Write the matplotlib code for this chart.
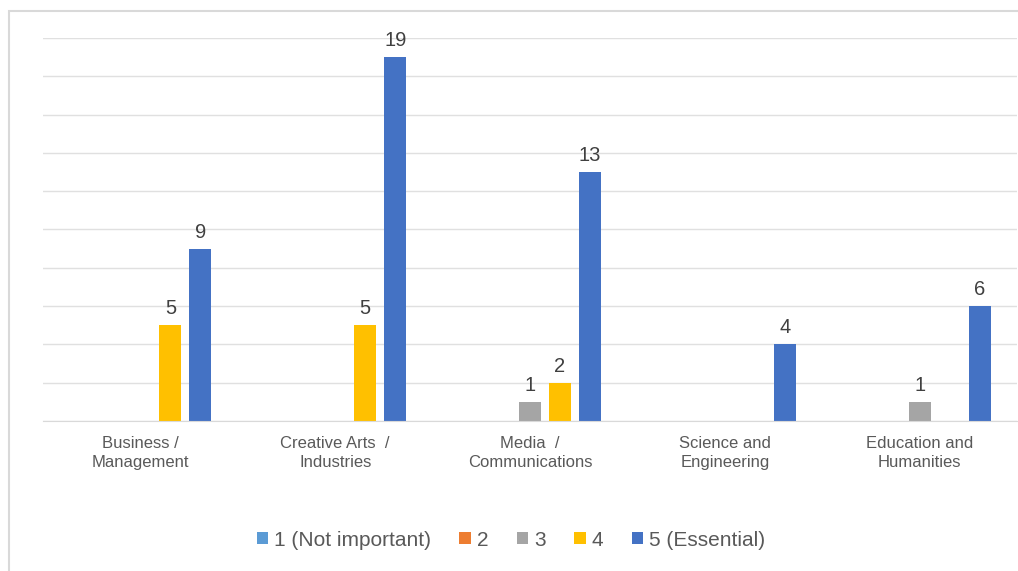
import matplotlib
matplotlib.use('Agg')
import matplotlib.pyplot as plt
import numpy as np
from matplotlib.patches import Rectangle

categories = ['Business /\nManagement', 'Creative Arts  /\nIndustries', 'Media  /\nCommunications',
              'Science and\nEngineering', 'Education and\nHumanities']
series_names = ['1 (Not important)', '2', '3', '4', '5 (Essential)']
s1 = [0, 0, 0, 0, 0]
s2 = [0, 0, 0, 0, 0]
s3 = [0, 0, 1, 0, 1]
s4 = [5, 5, 2, 0, 0]
s5 = [9, 19, 13, 4, 6]
colors = ['#5B9BD5', '#ED7D31', '#A5A5A5', '#FFC000', '#4472C4']

plt.rcParams['font.family'] = ['Liberation Sans', 'DejaVu Sans']

fig = plt.figure(figsize=(10.18, 5.71), dpi=100)
# outer chart frame (cut off at the right and bottom in the reference)
fig.patches.append(Rectangle((9 / 1018, -0.05), 1.1, 1 - 11 / 571 + 0.05,
                             transform=fig.transFigure, fill=False,
                             edgecolor='#d9d9d9', linewidth=1.5))
ax = fig.add_axes([43 / 1018, 1 - 421 / 571, 974 / 1018, (421 - 38) / 571])

x = np.arange(len(categories))
step = 0.154
width = 0.113
for i, (vals, name, c) in enumerate(zip([s1, s2, s3, s4, s5], series_names, colors)):
    pos = x + (i - 2) * step
    bars = ax.bar(pos, vals, width, color=c, label=name)
    for b, v in zip(bars, vals):
        if v:
            ax.annotate(str(v), (b.get_x() + b.get_width() / 2, v), xytext=(0, 5),
                        textcoords='offset points', ha='center', va='bottom',
                        fontsize=14.5, color='#404040')

ax.set_xlim(-0.5, len(categories) - 0.5)
ax.set_ylim(0, 20)
ax.set_yticks(range(0, 21, 2))
ax.yaxis.grid(True, color='#e0e0e0', linewidth=1)
ax.set_axisbelow(True)
ax.tick_params(axis='y', left=False, labelleft=False)
ax.tick_params(axis='x', bottom=False, pad=7)
ax.set_xticks(x)
ax.set_xticklabels(categories, fontsize=12, color='#595959', linespacing=1.4)
for s in ['top', 'right', 'left']:
    ax.spines[s].set_visible(False)
ax.spines['bottom'].set_color('#d9d9d9')

leg = fig.legend(loc='center', bbox_to_anchor=(511 / 1018, 1 - 540 / 571), ncol=5,
                 frameon=False, fontsize=15, handlelength=0.55, handleheight=0.55,
                 handletextpad=0.3, columnspacing=1.35)
for t in leg.get_texts():
    t.set_color('#595959')

plt.savefig('out.png', dpi=100)
